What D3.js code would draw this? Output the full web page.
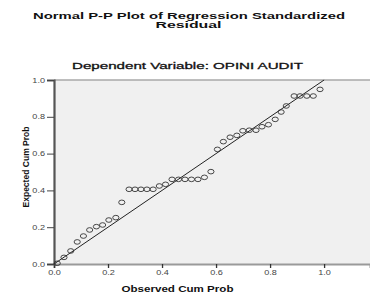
<!DOCTYPE html>
<html lang="en">
<head>
    <script src="https://d3js.org/d3.v7.min.js"></script>
    <title>P-P Plot</title>
    <style>
        body {margin: 0; background: #fff;}
        svg {display: block;}
        text {font-family: "Liberation Sans", Arial, sans-serif;}
        .tick text {fill: #444;}
    </style>
</head>
<body>
<svg width="370" height="295"></svg>

<script>
    // observed cum prob (x) and expected cum prob (y)
    var observed = [0.012, 0.037, 0.062, 0.086, 0.109, 0.132, 0.157, 0.180, 0.203, 0.229,
        0.251, 0.278, 0.300, 0.322, 0.344, 0.367, 0.390, 0.413, 0.437, 0.461,
        0.485, 0.509, 0.533, 0.557, 0.581, 0.605, 0.627, 0.652, 0.677, 0.699,
        0.723, 0.748, 0.770, 0.794, 0.819, 0.841, 0.860, 0.889, 0.911, 0.936,
        0.960, 0.985];
    var expected = [0.004, 0.036, 0.071, 0.120, 0.152, 0.185, 0.203, 0.212, 0.239, 0.252,
        0.335, 0.406, 0.406, 0.406, 0.406, 0.406, 0.424, 0.433, 0.460, 0.460,
        0.460, 0.460, 0.460, 0.471, 0.502, 0.623, 0.665, 0.689, 0.699, 0.724,
        0.727, 0.727, 0.746, 0.757, 0.786, 0.826, 0.859, 0.913, 0.913, 0.913,
        0.913, 0.949];
    var xTicks = [0, 0.2, 0.4, 0.6, 0.8, 1.0];
    var yTicks = [0, 0.2, 0.4, 0.6, 0.8, 1.0];

    var svg = d3.select('svg');
    var x = d3.scaleLinear().domain([0, 1.17]).range([54, 370]);
    var y = d3.scaleLinear().domain([0, 1]).range([264, 80]);
    var SX = 1.38; // the picture is stretched sideways

    // plot background
    svg.append('rect')
        .attr('x', x(0)).attr('y', y(1))
        .attr('width', x(1.17) - x(0)).attr('height', y(0) - y(1))
        .attr('fill', '#f0f0f0');
    svg.append('line')
        .attr('x1', x(0)).attr('x2', x(1.17)).attr('y1', y(1)).attr('y2', y(1))
        .attr('stroke', '#a8a8a8').attr('stroke-width', 1.5);

    // titles
    function label(txt, cx, cy, size, weight, len) {
        return svg.append('text').text(txt)
            .attr('x', cx).attr('y', cy)
            .attr('text-anchor', 'middle')
            .attr('font-size', size).attr('font-weight', weight)
            .attr('textLength', len).attr('lengthAdjust', 'spacingAndGlyphs')
            .attr('fill', '#111');
    }
    label('Normal P-P Plot of Regression Standardized', 189, 18.5, 8.8, 'bold', 312);
    label('Residual', 188.5, 28, 8.8, 'bold', 66);
    label('Dependent Variable: OPINI AUDIT', 187.5, 69, 9.4, 'normal', 231)
        .attr('stroke', '#111').attr('stroke-width', 0.3);
    label('Observed Cum Prob', 177.5, 291.5, 9, 'bold', 112);

    svg.append('text').text('Expected Cum Prob')
        .attr('transform', 'translate(28.5,167) rotate(-90)')
        .attr('text-anchor', 'middle')
        .attr('font-size', 8.8).attr('font-weight', 'bold')
        .attr('textLength', 81).attr('lengthAdjust', 'spacingAndGlyphs')
        .attr('fill', '#111');

    // axes
    var xAxis = svg.append('g').attr('transform', 'translate(0,' + y(0) + ')')
        .call(d3.axisBottom(x).tickValues(xTicks).tickFormat(d3.format('.1f')).tickSize(4).tickPadding(2));
    xAxis.select('.domain').attr('stroke', '#9a9a9a').attr('stroke-width', 2);
    xAxis.selectAll('.tick line').attr('stroke', '#333').attr('stroke-width', 1.3);
    xAxis.selectAll('.tick text').attr('font-size', 6.6)
        .attr('transform', 'scale(' + SX + ',1)');

    var yAxis = svg.append('g').attr('transform', 'translate(' + x(0) + ',0)')
        .call(d3.axisLeft(y).tickValues(yTicks).tickFormat(d3.format('.1f')).tickSize(7).tickPadding(2));
    yAxis.select('.domain').attr('stroke', '#555').attr('stroke-width', 2.2);
    yAxis.selectAll('.tick line').attr('stroke', '#444').attr('stroke-width', 1);
    yAxis.selectAll('.tick text').attr('font-size', 6.6)
        .attr('x', -9 / SX)
        .attr('transform', 'scale(' + SX + ',1)');

    // reference line
    svg.append('line')
        .attr('x1', x(0)).attr('y1', y(0)).attr('x2', x(1)).attr('y2', y(1))
        .attr('stroke', '#222').attr('stroke-width', 1);

    // points
    svg.append('g').selectAll('ellipse')
        .data(observed).enter().append('ellipse')
        .attr('cx', d => x(d))
        .attr('cy', (d, i) => y(expected[i]))
        .attr('rx', 3.1).attr('ry', 2.3)
        .attr('fill', 'none').attr('stroke', '#333').attr('stroke-width', 0.9);
</script>
</body>
</html>
